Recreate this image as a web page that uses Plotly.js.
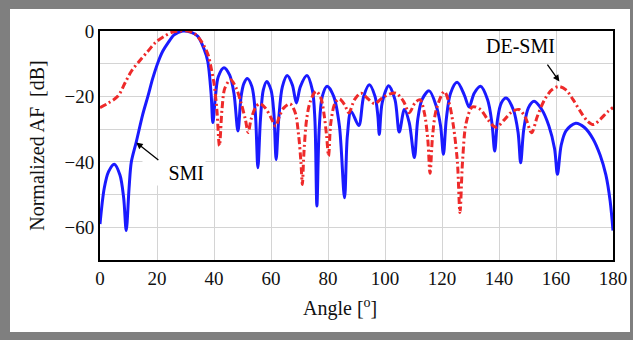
<!DOCTYPE html>
<html>
<head>
<meta charset="utf-8">
<script src="https://cdn.plot.ly/plotly-3.0.1.min.js"></script>
<style>
html, body { margin: 0; padding: 0; }
body { width: 633px; height: 340px; background: #7f7f7f; position: relative; overflow: hidden; }
#chart { position: absolute; left: 10px; top: 9px; width: 620px; height: 323px; background: #fff; }
</style>
</head>
<body>
<div id="chart"></div>
<script>
// SMI (blue, solid): angle in degrees, normalized AF in dB
const smiAngle = [0, 1.5, 3, 5, 7, 8.3, 9.2, 10.2, 11, 12.7, 15, 16.8, 18.5, 20.3, 22, 23.8, 26, 29, 32, 34.3, 36.5, 37.8, 39, 39.6, 40.5, 41.5, 43.5, 45.5, 47, 48.4, 49.5, 50.5, 51.7, 53.3, 54.5, 55.4, 56.3, 57.3, 58.5, 60, 61, 61.8, 62.7, 64, 65.7, 67.5, 68.9, 70.3, 72.6, 74.5, 75.4, 76.1, 76.9, 78, 79.7, 82, 84, 85.8, 86.8, 88.1, 90.8, 92.5, 94.5, 96.5, 97.5, 98, 99, 101.3, 103.5, 105, 106.8, 108.5, 110.3, 111.5, 113, 115.5, 118, 119.5, 120.5, 121.5, 123, 125.3, 127.8, 129.5, 131.3, 133.5, 136, 137.5, 138.5, 139.5, 140.8, 142.5, 145, 146.7, 147.6, 148.7, 150.3, 152.3, 155, 157.5, 159.5, 160.5, 161.8, 163.5, 166.9, 170, 173, 175.5, 177.5, 179, 180];
const smiDb = [-59, -48, -43, -40.7, -44, -51, -61, -48, -40, -34, -25.5, -20, -14.5, -9.7, -6.2, -3.7, -1.2, 0, -0.4, -1.6, -5.5, -9.2, -19.4, -28, -20, -14, -11.2, -13.5, -19, -30.6, -20, -16, -14.5, -17, -25, -41.8, -27, -18, -15.4, -18, -25, -39.3, -27, -17, -13.6, -16.5, -22, -17, -13.6, -18, -27, -53.5, -30, -20, -16.9, -20, -29, -51, -32, -24.5, -28.9, -20, -16.4, -20, -26, -31.6, -22, -16.7, -21, -30.9, -24, -28, -38.7, -27, -21, -18.3, -23, -29, -37.7, -27, -19, -15.7, -19.5, -23.2, -19, -16.9, -21, -28, -36.7, -27, -22, -20.5, -24, -31, -40.3, -30, -23.5, -21.5, -24, -29, -36, -43.8, -35, -30.5, -28.2, -29.5, -33, -38, -44, -52, -61];

// DE-SMI (red, dash-dot)
const desmiAngle = [0, 3, 6.3, 9, 11, 14, 16.8, 19.5, 22.6, 25.5, 28, 31, 33.1, 35, 36.6, 38, 39, 40, 41, 41.9, 42.8, 43.8, 45.8, 47.8, 49.5, 51, 52, 53, 54.5, 56, 58, 60, 61.6, 63, 64.5, 66.7, 68.5, 69.7, 70.5, 71, 71.5, 72.5, 73.8, 75.8, 77.5, 78.7, 79.5, 80.2, 81, 82.5, 84, 85.8, 87.3, 89.3, 91.6, 94, 96.3, 99, 101.5, 103.9, 106.5, 108.5, 110.5, 112.3, 113.8, 115, 115.8, 116.7, 118, 120.8, 122.5, 124, 125.4, 126.3, 127.2, 128.5, 130.7, 133.5, 136, 138.9, 142, 144.5, 147, 149.3, 151.4, 153.5, 156, 158.5, 161, 163.5, 166, 168.5, 171, 173.2, 175.5, 178, 180];
const desmiDb = [-23.4, -22, -19.9, -15.5, -12.3, -9, -6.2, -3.5, -1.6, -0.3, 0, 0, -0.8, -2.5, -4.7, -7.5, -11.3, -16, -24, -35.1, -24, -17.5, -14.9, -17.5, -22, -27, -31, -27, -23.5, -22.2, -23.5, -26.5, -29.1, -26, -23.5, -22.3, -25, -32, -40, -46.9, -38, -27, -21.5, -18.4, -20.5, -26, -32, -38.2, -28, -22, -20.8, -22.5, -25, -21, -19, -20.7, -22.2, -20.5, -19.3, -19, -21.5, -25, -22, -21, -25, -33, -43.5, -32, -24, -18.5, -22, -29, -40, -55.5, -40, -28, -23.2, -24, -27, -29.4, -27, -24.7, -24, -26.5, -31.1, -26, -21, -18, -17, -18, -21, -24.5, -27.5, -28.6, -27, -24.8, -23.4];

const xTickVals = [0, 20, 40, 60, 80, 100, 120, 140, 160, 180];
const yTickVals = [0, -20, -40, -60];
const yTickText = ['0', '\u221220', '\u221240', '\u221260'];

const serif = 'Liberation Serif, Times New Roman, serif';

const traces = [
  {
    x: smiAngle, y: smiDb, type: 'scatter', mode: 'lines', name: 'SMI',
    line: { color: '#1a1aff', width: 3, shape: 'spline', smoothing: 0.9 }
  },
  {
    x: desmiAngle, y: desmiDb, type: 'scatter', mode: 'lines', name: 'DE-SMI',
    line: { color: '#ee2a2a', width: 3, dash: '7px,3px,2px,3px', shape: 'spline', smoothing: 0.9 }
  }
];

const layout = {
  width: 620, height: 323,
  margin: { l: 90, r: 17, t: 22, b: 72 },
  paper_bgcolor: '#ffffff', plot_bgcolor: '#ffffff',
  showlegend: false,
  font: { family: serif, size: 19, color: '#111' },
  xaxis: {
    range: [0, 180], tickvals: xTickVals, ticks: '',
    showgrid: true, gridcolor: '#d4d4d4', gridwidth: 1,
    showline: true, mirror: true, linecolor: '#000', linewidth: 2,
    zeroline: false, tickfont: { family: serif, size: 19, color: '#111' }
  },
  yaxis: {
    range: [-70, 0], tickvals: yTickVals, ticktext: yTickText, ticks: '',
    showgrid: true, gridcolor: '#d4d4d4', gridwidth: 1,
    minor: { dtick: 10, tick0: 0, showgrid: true, gridcolor: '#d4d4d4', gridwidth: 1, ticks: '' },
    showline: true, mirror: true, linecolor: '#000', linewidth: 2,
    zeroline: false, tickfont: { family: serif, size: 19, color: '#111' },
    title: { text: 'Normalized AF\u00a0\u00a0[dB]', font: { family: serif, size: 20, color: '#111' }, standoff: 14 }
  },
  annotations: [
    {
      xref: 'paper', yref: 'paper', x: 0.468, y: -0.207, xanchor: 'center', yanchor: 'middle',
      text: 'Angle [<sup>o</sup>]', showarrow: false,
      font: { family: serif, size: 20, color: '#111' }
    },
    {
      x: 12.7, y: -34.1, xref: 'x', yref: 'y', text: 'SMI', showarrow: true,
      ax: 38, ay: 30, width: 60, align: 'right',
      arrowhead: 2, arrowsize: 1, arrowwidth: 1.3, arrowcolor: '#000', startstandoff: 0,
      font: { family: serif, size: 20, color: '#000' }, bgcolor: '#ffffff', borderpad: 1
    },
    {
      x: 161.2, y: -15.4, xref: 'x', yref: 'y', text: 'DE-SMI', showarrow: true,
      ax: -25, ay: -35, width: 96, align: 'left',
      arrowhead: 2, arrowsize: 1, arrowwidth: 1.3, arrowcolor: '#000', startstandoff: 7,
      font: { family: serif, size: 20, color: '#000' }
    }
  ]
};

Plotly.newPlot('chart', traces, layout, { displayModeBar: false, staticPlot: true });
</script>
</body>
</html>
